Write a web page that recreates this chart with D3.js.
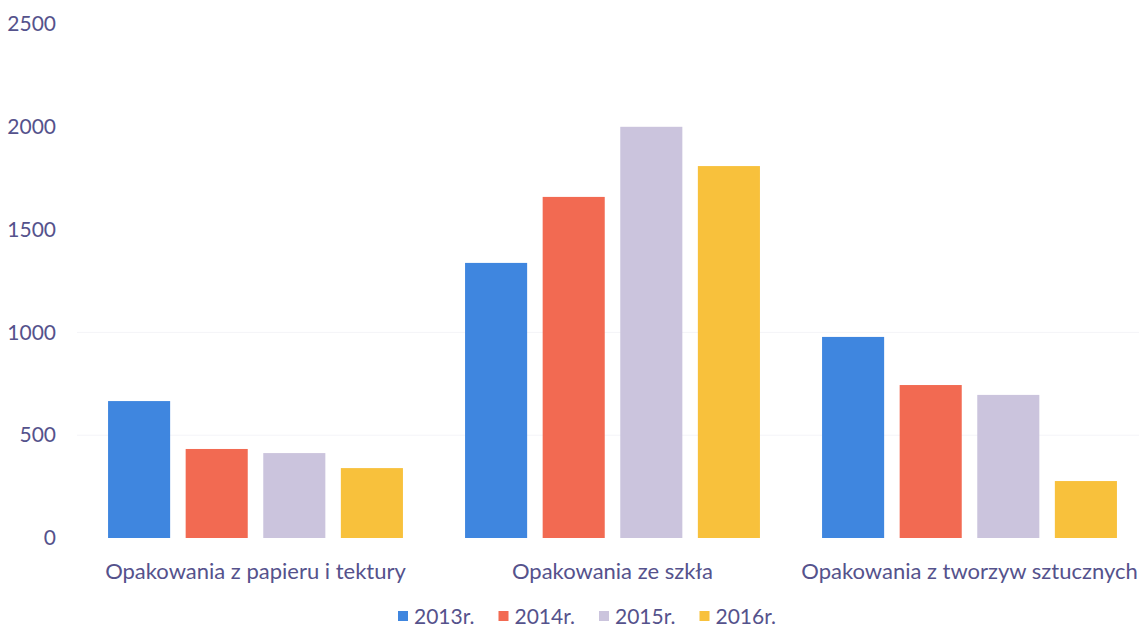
<!DOCTYPE html>
<html>
<head>
<meta charset="utf-8">
<script src="https://cdn.jsdelivr.net/npm/d3@7.9.0/dist/d3.min.js"></script>
<style>
  body { margin: 0; background: #fff; }
  svg { font-family: Lato, "Open Sans", sans-serif; }
</style>
</head>
<body>
<svg id="chart" width="1139" height="632"></svg>
<script>
// Chart data
const categories = ['Opakowania z papieru i tektury', 'Opakowania ze szkła', 'Opakowania z tworzyw sztucznych'];
const years = ['2013r.', '2014r.', '2015r.', '2016r.'];
const values2013 = [666, 1338, 978];
const values2014 = [433, 1659, 744];
const values2015 = [413, 2000, 696];
const values2016 = [340, 1809, 277];
const yTicks = [0, 500, 1000, 1500, 2000, 2500];

const seriesValues = [values2013, values2014, values2015, values2016];
const colors = d3.scaleOrdinal()
    .domain(years)
    .range(['#3f86df', '#f26a52', '#cbc4dd', '#f8c13c']);

const textColor = '#55528c';
const svg = d3.select('#chart');
const plotLeft = 77;
const plotRight = 1148;

// Scales
const x0 = d3.scaleBand()
    .domain(categories)
    .range([plotLeft, plotRight])
    .paddingInner(0.174)
    .paddingOuter(0.087);

const x1 = d3.scaleBand()
    .domain(years)
    .range([0, x0.bandwidth()])
    .paddingInner(0.2)
    .paddingOuter(0);

const y = d3.scaleLinear()
    .domain([0, 2500])
    .range([538, 24]);

// Very faint gridlines
svg.append('g')
    .selectAll('line')
    .data([500, 1000])
    .join('line')
    .attr('x1', plotLeft)
    .attr('x2', 1139)
    .attr('y1', d => y(d))
    .attr('y2', d => y(d))
    .attr('stroke', '#f4f4f8')
    .attr('stroke-width', 1);

// Y axis labels
const yAxis = d3.axisLeft(y)
    .tickValues(yTicks)
    .tickFormat(d3.format('d'))
    .tickSize(0)
    .tickPadding(0);
svg.append('g')
    .attr('transform', 'translate(56,0)')
    .call(yAxis)
    .call(g => g.select('.domain').remove())
    .selectAll('text')
    .attr('font-size', 21)
    .attr('fill', textColor)
    .attr('font-family', 'Lato, "Open Sans", sans-serif');

// Bars
const groups = svg.append('g')
    .selectAll('g')
    .data(categories)
    .join('g')
    .attr('transform', d => `translate(${x0(d)},0)`);

groups.selectAll('rect')
    .data((d, i) => years.map((yr, s) => ({ year: yr, value: seriesValues[s][i] })))
    .join('rect')
    .attr('x', d => x1(d.year))
    .attr('width', x1.bandwidth())
    .attr('y', d => y(d.value))
    .attr('height', d => y(0) - y(d.value))
    .attr('fill', d => colors(d.year));

// Category labels
const xAxis = d3.axisBottom(x0).tickSize(0).tickPadding(0);
svg.append('g')
    .attr('transform', 'translate(0,563)')
    .call(xAxis)
    .call(g => g.select('.domain').remove())
    .selectAll('text')
    .attr('font-size', 22)
    .attr('fill', textColor)
    .attr('font-family', 'Lato, "Open Sans", sans-serif');

// Legend, laid out by text width and centred under the plot
const legend = svg.append('g');
const gap = 24;
let cursor = 0;
years.forEach((yr) => {
    const item = legend.append('g').attr('transform', `translate(${cursor},0)`);
    item.append('rect')
        .attr('x', 0)
        .attr('y', -13)
        .attr('width', 10)
        .attr('height', 10)
        .attr('fill', colors(yr));
    const t = item.append('text')
        .attr('x', 16)
        .attr('y', 0)
        .attr('font-size', 21)
        .attr('fill', textColor)
        .text(yr);
    cursor += 16 + t.node().getComputedTextLength() + gap;
});
const legendWidth = cursor - gap;
legend.attr('transform', `translate(${587 - legendWidth / 2},624)`);
</script>
</body>
</html>
